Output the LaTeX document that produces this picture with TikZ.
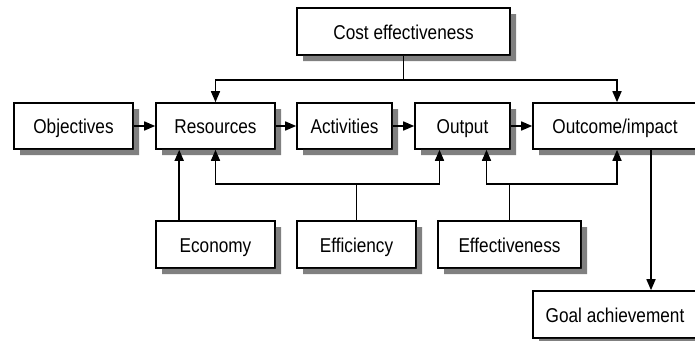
\documentclass[tikz,border=0pt]{standalone}
\usepackage{fontspec}
\setmainfont[FakeStretch=0.86]{Liberation Sans}
\usetikzlibrary{arrows.meta}
\definecolor{shadowgray}{RGB}{128,128,128}
\newcommand\shadowof[1]{%
  \fill[shadowgray] ([shift={(0,6.8)}]#1.north east) -- ([shift={(5.2,6.8)}]#1.north east)
    -- ([shift={(5.2,5.2)}]#1.south east) -- ([shift={(6.8,5.2)}]#1.south west)
    -- ([shift={(6.8,0)}]#1.south west) -- (#1.south east) -- cycle;}
\begin{document}
\begin{tikzpicture}[x=1pt,y=-1pt,
  box/.style={draw=black, line width=1.6pt, fill=white, inner sep=0pt,
    minimum height=47pt, text height=19pt, text depth=4pt,
    font=\fontsize{20}{24}\selectfont},
  conn/.style={line width=1.6pt, draw=black},
  arr/.style={conn, -{Triangle[length=11pt,width=9pt]}}]
\useasboundingbox (0,0) rectangle (695,340);
\fill[white] (0,0) rectangle (695,340);
% boxes
\node[box, minimum width=213pt] (cost) at (403.5,31.5) {Cost effectiveness};
\node[box, minimum width=119pt, minimum height=46pt] (objectives) at (73.5,126) {Objectives};
\node[box, minimum width=119pt, minimum height=46pt] (resources) at (215.5,126) {Resources};
\node[box, minimum width=95pt, minimum height=46pt] (activities) at (344.5,126) {Activities};
\node[box, minimum width=95pt, minimum height=46pt] (output) at (462.5,126) {Output};
\node[box, minimum width=164pt, minimum height=46pt] (outcome) at (615,126) {Outcome/impact};
\node[box, minimum width=119pt] (economy) at (215.5,244.5) {Economy};
\node[box, minimum width=119pt] (efficiency) at (356.5,244.5) {Efficiency};
\node[box, minimum width=143pt] (effectiveness) at (509.5,244.5) {Effectiveness};
\node[box, minimum width=164pt] (goal) at (615,314.5) {Goal achievement};
% shadows, drawn outside each box
\shadowof{cost}
\shadowof{objectives}
\shadowof{resources}
\shadowof{activities}
\shadowof{output}
\shadowof{outcome}
\shadowof{economy}
\shadowof{efficiency}
\shadowof{effectiveness}
\shadowof{goal}
% top bus
\draw[conn] (cost.south) -- ++(0,24) coordinate (cj);
\draw[arr] (cj) -| (resources.north);
\draw[arr] (cj) -| ([xshift=2pt]outcome.north);
% main chain
\draw[arr] (objectives) -- (resources);
\draw[arr] (resources) -- (activities);
\draw[arr] (activities) -- (output);
\draw[arr] (output) -- (outcome);
% economy
\draw[arr] ([xshift=24pt]economy.north west) -- ([xshift=24pt]resources.south west);
% efficiency
\draw[conn] (efficiency.north) -- ++(0,-36) coordinate (ej);
\draw[arr] (ej) -| (resources.south);
\draw[arr] (ej) -| ([xshift=-23pt]output.south);
% effectiveness
\draw[conn] (effectiveness.north) -- ++(0,-36) coordinate (fj);
\draw[arr] (fj) -| ([xshift=24pt]output.south);
\draw[arr] (fj) -| ([xshift=2pt]outcome.south);
% goal
\draw[arr] ([xshift=36pt]outcome.south) -- ([xshift=36pt]goal.north);
\end{tikzpicture}
\end{document}
